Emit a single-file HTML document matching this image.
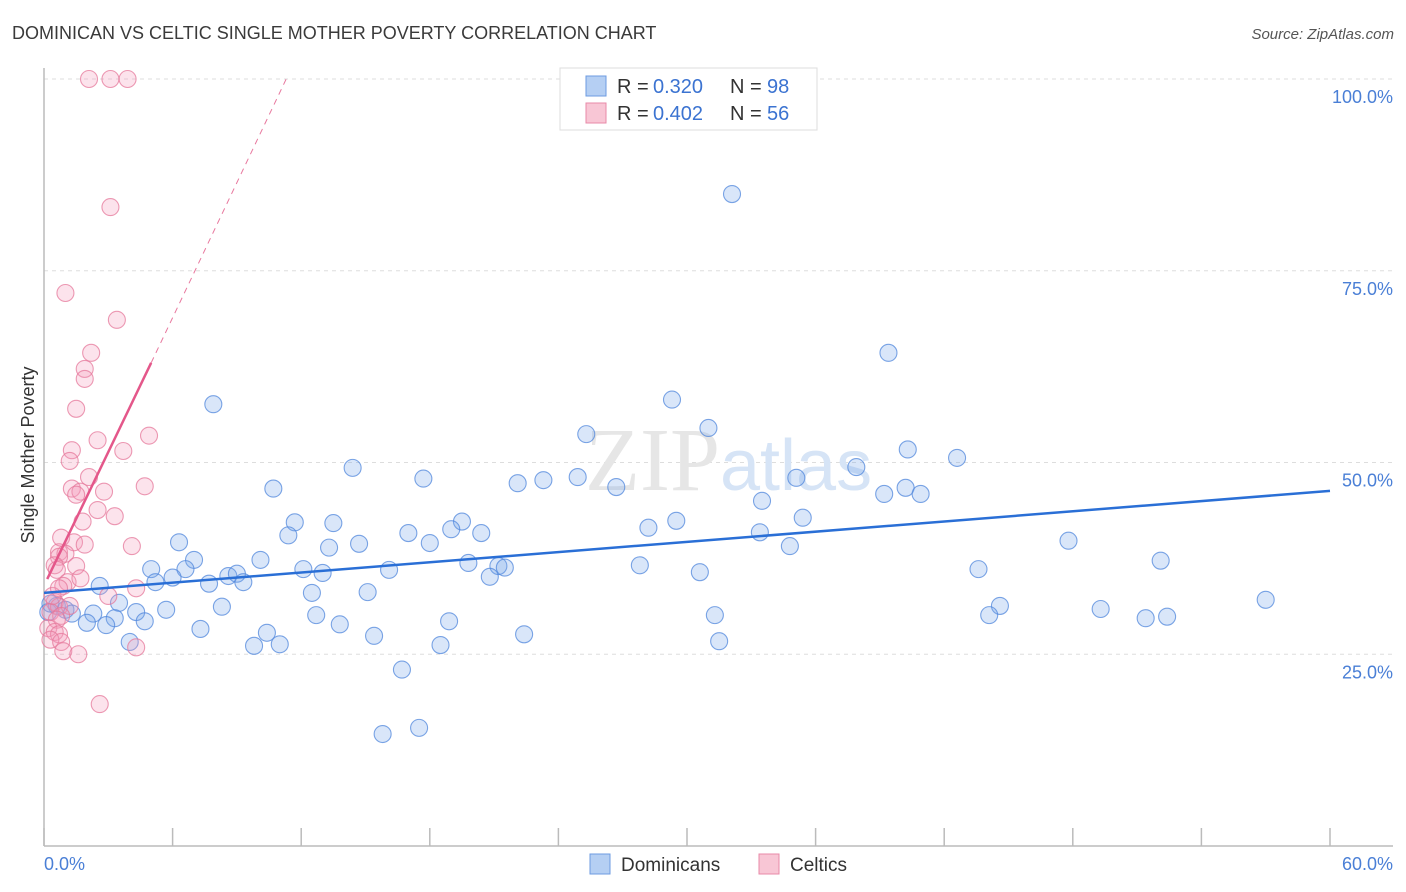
<!DOCTYPE html>
<html><head><meta charset="utf-8"><style>
body{margin:0;background:#fff;font-family:"Liberation Sans",sans-serif}
svg{display:block}
</style></head><body>
<svg id="chart" width="1406" height="892" xmlns="http://www.w3.org/2000/svg">
<text x="12" y="39" font-size="18" fill="#3a3a3a">DOMINICAN VS CELTIC SINGLE MOTHER POVERTY CORRELATION CHART</text>
<text x="1394" y="39" font-size="15" fill="#555" font-style="italic" text-anchor="end">Source: ZipAtlas.com</text>
<g id="grid"></g>
<text x="720" y="490" font-size="90" fill="#e6e6e6" text-anchor="end" font-family="Liberation Serif">ZIP</text>
<text x="720" y="490" font-size="72" fill="#d6e4f6">atlas</text>
<line x1="44" y1="68" x2="44" y2="846" stroke="#bbb" stroke-width="1.5"/>
<line x1="44" y1="846" x2="1393" y2="846" stroke="#bbb" stroke-width="1.5"/>
<g id="xticks"></g>
<g id="ylabels"></g>
<text x="44" y="870" font-size="18" fill="#4a7fd6">0.0%</text>
<text x="1393" y="870" font-size="18" fill="#4a7fd6" text-anchor="end">60.0%</text>
<text transform="translate(34,455) rotate(-90)" font-size="18" fill="#333" text-anchor="middle">Single Mother Poverty</text>
<g id="pts"></g>
<g id="trends"></g>
<g>
<rect x="560" y="68" width="257" height="62" fill="#fff" stroke="#ddd"/>
<rect x="586" y="76" width="20" height="20" fill="#b5cff3" stroke="#6d9be0"/>
<rect x="586" y="103" width="20" height="20" fill="#f8c6d5" stroke="#e88aa8"/>
<text x="617" y="93" font-size="20" fill="#333">R =</text>
<text x="653" y="93" font-size="20" fill="#3b73d1">0.320</text>
<text x="730" y="93" font-size="20" fill="#333">N =</text>
<text x="767" y="93" font-size="20" fill="#3b73d1">98</text>
<text x="617" y="120" font-size="20" fill="#333">R =</text>
<text x="653" y="120" font-size="20" fill="#3b73d1">0.402</text>
<text x="730" y="120" font-size="20" fill="#333">N =</text>
<text x="767" y="120" font-size="20" fill="#3b73d1">56</text>
</g>
<g>
<rect x="590" y="854" width="20" height="20" fill="#b5cff3" stroke="#6d9be0"/>
<text x="621" y="871" font-size="19" fill="#333">Dominicans</text>
<rect x="759" y="854" width="20" height="20" fill="#f8c6d5" stroke="#e88aa8"/>
<text x="790" y="871" font-size="19" fill="#333">Celtics</text>
</g>
</svg>
<script>
const yTicks=[25,50,75,100];
const yTickLabels=["25.0%","50.0%","75.0%","100.0%"];
const xTickVals=[0,6,12,18,24,30,36,42,48,54,60];
const blueX=[32.1,39.4,7.9,29.3,31.0,25.3,40.3,42.6,14.4,37.9,24.9,17.7,35.1,22.1,23.3,26.7,10.7,40.2,39.2,40.9,33.5,11.7,13.5,19.5,19.0,17.0,20.4,11.4,29.5,35.4,28.2,33.4,6.3,18.0,14.7,13.3,34.8,47.8,7.0,10.1,52.1,5.0,6.6,12.1,16.1,19.8,21.2,21.5,27.8,43.6,30.6,13.0,20.8,6.0,8.6,9.0,9.3,7.7,5.2,2.6,12.5,15.1,57.0,3.5,44.6,8.3,5.7,4.3,0.6,1.0,1.3,2.3,49.3,31.3,44.1,51.4,52.4,12.7,3.3,4.7,18.9,2.0,2.9,13.8,7.3,10.4,15.4,22.4,4.0,31.5,9.8,11.0,18.5,16.7,17.5,15.8,0.2,0.3];
const blueY=[85.0,64.3,57.6,58.2,54.5,53.7,51.7,50.6,49.3,49.4,48.1,47.9,48.0,47.3,47.7,46.8,46.6,46.7,45.9,45.9,45.0,42.2,42.1,42.3,41.3,40.8,40.8,40.5,42.4,42.8,41.5,40.9,39.6,39.5,39.4,38.9,39.1,39.8,37.3,37.3,37.2,36.1,36.1,36.1,36.0,36.9,36.5,36.3,36.6,36.1,35.7,35.6,35.1,35.0,35.2,35.5,34.4,34.2,34.4,33.9,33.0,33.1,32.1,31.7,31.3,31.2,30.8,30.5,31.3,30.8,30.3,30.3,30.9,30.1,30.1,29.7,29.9,30.1,29.7,29.3,29.3,29.1,28.8,28.9,28.3,27.8,27.4,27.6,26.6,26.7,26.1,26.3,26.2,23.0,15.4,14.6,30.5,31.6];
const pinkX=[2.1,3.1,3.9,3.1,1.0,3.4,2.2,1.9,1.9,1.5,2.5,4.9,1.3,1.2,3.7,2.1,4.7,1.3,1.7,2.8,1.5,2.5,3.3,1.8,0.8,1.4,1.9,4.1,0.7,1.0,0.7,0.5,0.6,1.5,1.1,1.7,0.9,4.3,3.0,0.5,0.7,1.2,0.3,0.8,0.6,0.2,0.5,0.7,0.3,0.8,4.3,0.9,1.6,2.6,0.4,0.7];
const pinkY=[100,100,100,83.3,72.1,68.6,64.3,62.2,60.9,57.0,52.9,53.5,51.6,50.2,51.5,48.1,46.9,46.6,46.2,46.2,45.8,43.8,43.0,42.3,40.2,39.6,39.3,39.1,38.3,38.1,37.7,36.6,36.0,36.5,34.4,34.9,33.9,33.6,32.6,31.8,31.2,31.3,30.5,30.0,29.5,28.4,27.9,27.6,26.9,26.6,25.9,25.4,25.0,18.5,32.6,33.6];
const blueTrend=[[0,33.0],[60,46.3]];
const pinkTrendSolid=[[0.15,34.8],[5.0,63.0]];
const pinkTrendDash=[[5.0,63.0],[11.3,100]];
const NS="http://www.w3.org/2000/svg";
const sx=v=>44+v/60*1286, sy=v=>846-v/100*767;
function mk(tag,attrs,parent){const e=document.createElementNS(NS,tag);for(const k in attrs)e.setAttribute(k,attrs[k]);parent.appendChild(e);return e;}
const grid=document.getElementById('grid'),yl=document.getElementById('ylabels');
yTicks.forEach((t,i)=>{
 const l=mk('line',{x1:44,x2:1393,y1:sy(t),y2:sy(t),stroke:'#ddd','stroke-dasharray':'4,4'},grid);
 
 
 const tx=mk('text',{x:1393,y:sy(t)+24,'font-size':18,fill:'#4a7fd6','text-anchor':'end'},yl);
 tx.textContent=yTickLabels[i];
 
 
});
const xt=document.getElementById('xticks');
xTickVals.forEach(v=>{
 const l=mk('line',{x1:sx(v),x2:sx(v),y1:828,y2:846,stroke:'#bbb','stroke-width':1.5},xt);
 
 
});
const pts=document.getElementById('pts');
blueX.forEach((x,i)=>{
 const c=mk('circle',{cx:sx(x),cy:sy(blueY[i]),r:8.5,fill:'rgba(120,165,235,0.28)',stroke:'rgba(80,135,220,0.75)','stroke-width':1.1},pts);
 
 
});
pinkX.forEach((x,i)=>{
 const c=mk('circle',{cx:sx(x),cy:sy(pinkY[i]),r:8.5,fill:'rgba(245,155,185,0.28)',stroke:'rgba(230,120,155,0.75)','stroke-width':1.1},pts);
 
 
});
const tr=document.getElementById('trends');
let l=mk('line',{x1:sx(blueTrend[0][0]),y1:sy(blueTrend[0][1]),x2:sx(blueTrend[1][0]),y2:sy(blueTrend[1][1]),stroke:'#2a6fd6','stroke-width':2.5},tr);


l=mk('line',{x1:sx(pinkTrendSolid[0][0]),y1:sy(pinkTrendSolid[0][1]),x2:sx(pinkTrendSolid[1][0]),y2:sy(pinkTrendSolid[1][1]),stroke:'#e4578a','stroke-width':2.5},tr);


l=mk('line',{x1:sx(pinkTrendDash[0][0]),y1:sy(pinkTrendDash[0][1]),x2:sx(pinkTrendDash[1][0]),y2:sy(pinkTrendDash[1][1]),stroke:'#e8789e','stroke-width':1,'stroke-dasharray':'6,5'},tr);


</script>
</body></html>
